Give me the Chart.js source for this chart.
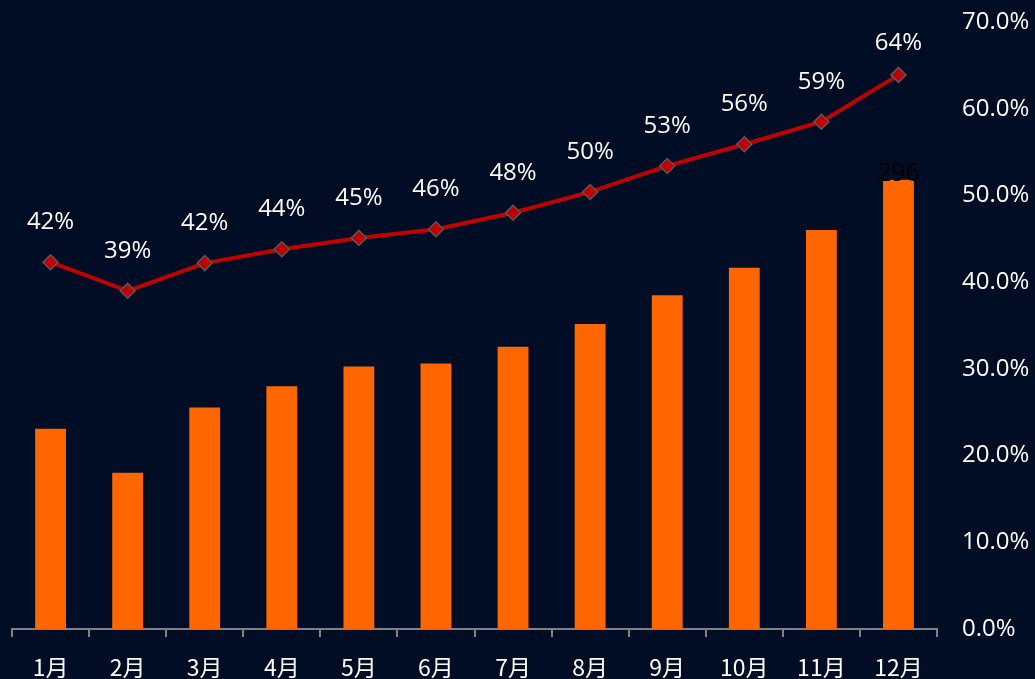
<!DOCTYPE html>
<html><head><meta charset="utf-8">
<script src="https://cdn.jsdelivr.net/npm/chart.js@4/dist/chart.umd.min.js"></script>
<style>html,body{margin:0;padding:0;background:#010d24;}#wrap{width:1035px;height:679px;}</style>
</head><body><div id="wrap"><canvas id="c" width="1035" height="679"></canvas></div>
<script>
const categories = ['1月','2月','3月','4月','5月','6月','7月','8月','9月','10月','11月','12月'];
const barValues = [132,103,146,160,173,175,186,201,220,238,263,296];
const lineValues = [42.3,39.0,42.2,43.8,45.1,46.1,48.0,50.4,53.4,55.9,58.5,63.9];
const lineLabels = ['42%','39%','42%','44%','45%','46%','48%','50%','53%','56%','59%','64%'];
const barLabels = ['','','','','','','','','','','','296'];
const pctTicks = [0,10,20,30,40,50,60,70];

const labelPlugin = {
  id:'labels',
  afterDatasetsDraw(chart){
    const ctx = chart.ctx;
    ctx.save();
    ctx.font = '24px "Open Sans", sans-serif';
    ctx.textAlign = 'center';
    ctx.textBaseline = 'middle';
    const lm = chart.getDatasetMeta(1);
    ctx.fillStyle = '#ffffff';
    lm.data.forEach((p,i)=>{ ctx.fillText(lineLabels[i], p.x, Math.max(p.y - 40, 43)); });
    const bm = chart.getDatasetMeta(0);
    ctx.fillStyle = '#000000';
    ctx.font = '25px "Open Sans", sans-serif';
    bm.data.forEach((b,i)=>{ if(barLabels[i]) ctx.fillText(barLabels[i], b.x, b.y - 6); });
    ctx.restore();
  }
};

new Chart(document.getElementById('c'), {
  data:{
    labels: categories,
    datasets:[
      {type:'bar', data:barValues, backgroundColor:'#ff6600', yAxisID:'yBar', categoryPercentage:1, barPercentage:0.4, order:2},
      {type:'line', data:lineValues, yAxisID:'yPct', borderColor:'#c00000', borderWidth:4, pointStyle:'rectRot', pointRadius:7.5, pointHoverRadius:7.5, pointBackgroundColor:'#c00000', pointBorderColor:'#595959', pointBorderWidth:1.5, tension:0, order:1}
    ]
  },
  options:{
    responsive:false, animation:false,
    layout:{padding:{left:12, top:22, right:0, bottom:0}},
    plugins:{legend:{display:false}, tooltip:{enabled:false}},
    scales:{
      x:{
        grid:{display:true, drawOnChartArea:false, drawTicks:true, tickLength:8, color:'#808080', lineWidth:2, offset:true},
        border:{display:true, color:'#808080', width:2},
        ticks:{color:'#ffffff', font:{family:'"Noto Sans CJK SC", sans-serif', size:23}, padding:16},
        afterFit(s){ s.height = 50; s.paddingLeft = 0; s.paddingRight = 0; }
      },
      yBar:{display:false, min:0, max:400, position:'left'},
      yPct:{
        position:'right', min:0, max:70,
        afterBuildTicks(s){ s.ticks = pctTicks.map(v=>({value:v})); },
        grid:{display:false, drawTicks:false}, border:{display:false},
        ticks:{color:'#ffffff', font:{family:'"Open Sans", sans-serif', size:24}, padding:25, callback:v=>v.toFixed(1)+'%'},
        afterFit(s){ s.width = 98; s.paddingTop = 0; s.paddingBottom = 0; }
      }
    }
  },
  plugins:[labelPlugin]
});
</script></body></html>
